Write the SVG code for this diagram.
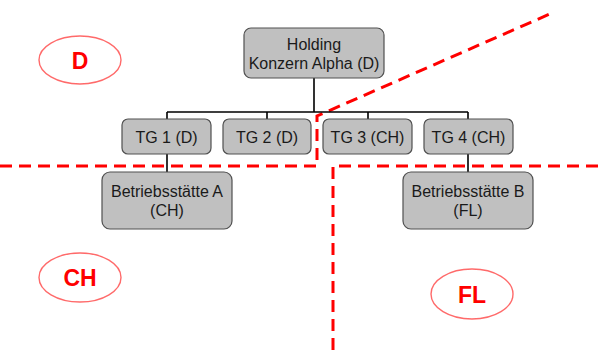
<svg xmlns="http://www.w3.org/2000/svg" width="598" height="354" viewBox="0 0 598 354">
  <style>
    .box { fill: #c0c0c0; stroke: #505050; stroke-width: 1.2; }
    .lbl { font-family: "Liberation Sans", Arial, sans-serif; font-size: 16px; fill: #1a1a1a; text-anchor: middle; }
    .wire { stroke: #000; stroke-width: 1.6; fill: none; }
    .border { stroke: #ff0000; stroke-width: 3; stroke-dasharray: 12 7; fill: none; }
    .country { fill: #fff; stroke: #ff6a6a; stroke-width: 1.4; }
    .code { font-family: "Liberation Sans", Arial, sans-serif; font-size: 23px; font-weight: bold; fill: #ff0000; text-anchor: middle; }
  </style>

  <rect width="598" height="354" fill="#fff"/>

  <!-- tax borders -->
  <g id="borders">
    <path class="border" d="M0,166 L317,166 L317,116 L552,13"/>
    <path class="border" d="M598,166 L333,166 L333,354"/>
  </g>

  <!-- hierarchy connectors -->
  <g id="connectors">
    <path class="wire" d="M314,78 V112 M167,112 H468 M167,112 V119 M267,112 V119 M368,112 V119 M468,112 V119"/>
    <path class="wire" d="M167,154 V172"/>
    <path class="wire" d="M468,154 V172"/>
  </g>

  <g id="holding">
    <rect class="box" x="244" y="28" width="140" height="50" rx="7"/>
    <text class="lbl" x="314" y="50">Holding</text>
    <text class="lbl" x="314" y="69">Konzern Alpha (D)</text>
  </g>

  <g id="tg1">
    <rect class="box" x="122" y="119" width="89" height="35" rx="6"/>
    <text class="lbl" x="166.5" y="142.5">TG 1 (D)</text>
  </g>
  <g id="tg2">
    <rect class="box" x="223" y="119" width="88" height="35" rx="6"/>
    <text class="lbl" x="267" y="142.5">TG 2 (D)</text>
  </g>
  <g id="tg3">
    <rect class="box" x="323" y="119" width="89" height="35" rx="6"/>
    <text class="lbl" x="367.5" y="142.5">TG 3 (CH)</text>
  </g>
  <g id="tg4">
    <rect class="box" x="424" y="119" width="89" height="35" rx="6"/>
    <text class="lbl" x="468.5" y="142.5">TG 4 (CH)</text>
  </g>

  <g id="bs-a">
    <rect class="box" x="102" y="172" width="130" height="57" rx="8"/>
    <text class="lbl" x="167" y="197">Betriebsstätte A</text>
    <text class="lbl" x="167" y="216">(CH)</text>
  </g>
  <g id="bs-b">
    <rect class="box" x="403" y="172" width="130" height="57" rx="8"/>
    <text class="lbl" x="468" y="197">Betriebsstätte B</text>
    <text class="lbl" x="468" y="216">(FL)</text>
  </g>

  <g id="country-d">
    <ellipse class="country" cx="80" cy="60" rx="41" ry="24"/>
    <text class="code" x="80" y="68.5">D</text>
  </g>
  <g id="country-ch">
    <ellipse class="country" cx="80" cy="277.5" rx="41" ry="24.5"/>
    <text class="code" x="80" y="286">CH</text>
  </g>
  <g id="country-fl">
    <ellipse class="country" cx="472" cy="294" rx="41" ry="25"/>
    <text class="code" x="472" y="302.5">FL</text>
  </g>
</svg>
